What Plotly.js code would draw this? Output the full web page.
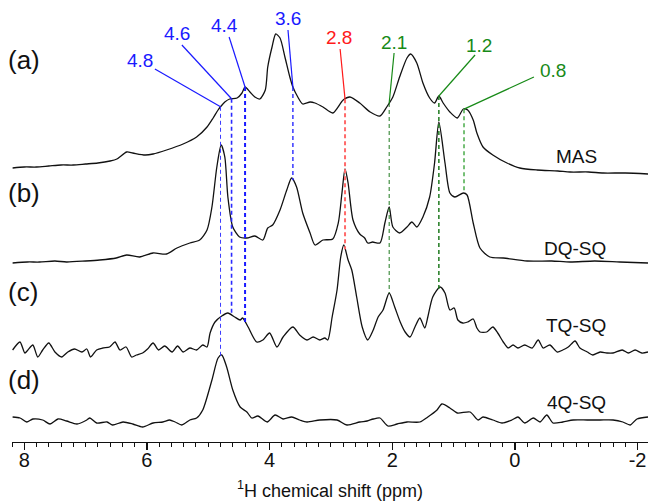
<!DOCTYPE html>
<html>
<head>
<meta charset="utf-8">
<script src="https://cdn.plot.ly/plotly-3.0.1.min.js"></script>
<style>html,body{margin:0;padding:0;background:#fff;}#chart{width:648px;height:501px;}</style>
</head>
<body>
<div id="chart"></div>
<script>
// ---- Spectrum (a) MAS ----
const ppmA = [8.19,8.0,7.8,7.6,7.4,7.2,7.0,6.8,6.6,6.49,6.33,6.23,6.03,5.90,5.68,5.41,5.19,5.02,4.92,4.84,4.79,4.73,4.65,4.53,4.45,4.40,4.32,4.24,4.16,4.07,4.03,3.96,3.90,3.83,3.75,3.67,3.62,3.54,3.46,3.34,3.26,3.13,2.97,2.80,2.69,2.53,2.36,2.20,2.09,1.99,1.88,1.76,1.70,1.60,1.50,1.39,1.31,1.24,1.17,1.06,0.94,0.84,0.77,0.68,0.62,0.52,0.36,0.13,-0.08,-0.36,-0.7,-0.90,-1.2,-1.44,-1.8,-2.17];
const intA = [7,8,8,9,10,10,11,12,14,16,23,22,20,21,25,31,38,48,57,65,69,73,76,77,82,88,83,78,76,85,108,128,141,137,118,98,88,78,71,73,72,68,62,75,78,72,63,59,68,78,98,117,121,112,92,77,72,79,72,63,57,66,65,55,42,28,20,12,7,5,4,3,3,2,2,1];
// ---- Spectrum (b) DQ-SQ ----
const ppmB = [8.19,7.95,7.75,7.5,7.31,7.0,6.77,6.5,6.33,6.12,5.90,5.68,5.51,5.30,5.14,5.02,4.94,4.86,4.79,4.73,4.68,4.60,4.49,4.37,4.24,4.11,4.03,3.95,3.83,3.72,3.64,3.56,3.46,3.34,3.26,3.13,2.97,2.88,2.82,2.77,2.72,2.64,2.53,2.45,2.40,2.32,2.20,2.12,2.05,1.99,1.88,1.76,1.68,1.60,1.50,1.39,1.31,1.24,1.14,1.06,0.98,0.84,0.78,0.68,0.57,0.41,0.19,-0.20,-0.6,-0.90,-1.3,-1.71,-2.17];
const intB = [0,1,1,2,1,2,3,5,8,6,10,9,15,20,23,33,56,96,118,106,66,36,26,25,27,23,35,38,53,73,85,76,50,30,18,23,24,40,70,94,80,43,29,25,20,21,20,40,56,36,30,36,41,36,46,66,100,141,100,70,66,70,68,40,15,6,5,2,2,1,2,1,0];
// ---- Spectrum (c) TQ-SQ ----
const ppmC = [8.19,8.07,7.99,7.94,7.86,7.78,7.70,7.60,7.50,7.39,7.29,7.18,7.06,6.98,6.92,6.82,6.72,6.61,6.52,6.44,6.34,6.25,6.17,6.07,5.99,5.90,5.81,5.71,5.59,5.50,5.41,5.30,5.19,5.09,5.02,4.97,4.89,4.78,4.68,4.57,4.48,4.44,4.35,4.21,4.11,4.00,3.88,3.78,3.62,3.51,3.39,3.29,3.18,3.10,3.05,2.98,2.90,2.84,2.79,2.72,2.66,2.58,2.49,2.40,2.31,2.23,2.15,2.05,1.96,1.87,1.79,1.71,1.63,1.55,1.47,1.42,1.34,1.22,1.14,1.06,0.99,0.93,0.85,0.77,0.68,0.62,0.57,0.46,0.36,0.28,0.19,0.11,0.03,-0.05,-0.16,-0.28,-0.38,-0.46,-0.57,-0.69,-0.78,-0.87,-0.98,-1.06,-1.18,-1.27,-1.39,-1.50,-1.60,-1.75,-1.85,-1.96,-2.07,-2.17];
const intC = [2,10,-1,2,7,-5,2,9,0,-5,0,3,0,3,-5,2,4,5,10,2,5,-5,-3,-1,3,9,2,6,0,6,0,4,2,7,5,19,30,36,39,35,32,34,25,10,12,19,5,15,25,17,12,15,12,14,12,35,62,95,107,92,82,55,25,12,22,35,42,59,45,30,20,15,25,34,24,35,55,65,59,42,44,32,29,30,33,24,20,20,25,19,10,4,7,4,7,4,12,4,7,0,2,5,11,4,0,-3,0,-1,-1,2,-1,2,-1,0];
// ---- Spectrum (d) 4Q-SQ ----
const ppmD = [8.19,8.07,7.96,7.86,7.70,7.58,7.45,7.31,7.14,6.98,6.93,6.82,6.65,6.56,6.39,6.23,6.07,5.90,5.74,5.63,5.54,5.43,5.30,5.19,5.09,4.94,4.84,4.78,4.70,4.60,4.48,4.37,4.29,4.19,4.04,3.91,3.78,3.64,3.51,3.39,3.18,2.90,2.74,2.53,2.41,2.31,2.20,2.07,1.92,1.76,1.55,1.42,1.27,1.19,1.06,0.94,0.73,0.60,0.52,0.36,0.21,0.05,-0.05,-0.16,-0.30,-0.41,-0.52,-0.62,-0.78,-0.95,-1.18,-1.39,-1.60,-1.76,-1.88,-1.99,-2.17];
const intD = [3,2,-2,1,0,-4,1,-1,-4,0,2,-3,-2,-5,-2,-4,-7,-3,-2,0,-2,-5,0,2,10,40,62,65,53,30,13,8,2,4,-2,5,1,3,0,-2,0,0,-5,-2,-1,1,2,-6,-4,-2,-2,3,10,16,12,7,8,0,3,0,-3,0,3,-3,2,-2,5,-3,-2,0,0,0,0,-2,-5,1,3];

const spectrumNames = ['MAS','DQ-SQ','TQ-SQ','4Q-SQ'];
const panelLetters = ['(a)','(b)','(c)','(d)'];
const tickValues = [8, 6, 4, 2, 0, -2];
const tickLabels = ['8', '6', '4', '2', '0', '-2'];

// Peak assignments
const peakLabels = ['4.8','4.6','4.4','3.6','2.8','2.1','1.2','0.8'];
const peakPos    = [4.8, 4.62, 4.4, 3.62, 2.77, 2.05, 1.24, 0.83];
const peakDrop   = [3, 2, 2, 1, 2, 2, 2, 1]; // index of spectrum where dashed line ends

// ---- layout constants ----
const FONT = 'Liberation Sans, Arial, sans-serif';
const offsets = [267, 179, 90, 22];
const spectra = [[ppmA,intA],[ppmB,intB],[ppmC,intC],[ppmD,intD]];
const peakColors = ['#1a1aff','#1a1aff','#1a1aff','#1a1aff','#ff1a1a','#178a17','#178a17','#178a17'];
const dashColors = ['#3a3aff','#2a2aff','#1a1aff','#2a2aff','#ff6a6a','#1f7a1f','#1f7a1f','#55b055'];
const dashWidths = [1, 1.6, 2, 1.4, 2, 1, 1.5, 1.6];
const labelXY  = [[6.12,382],[5.51,409],[4.73,417],[3.70,424],[2.87,405],[1.97,400],[0.59,397],[-0.62,372]];
const leaderXY = [[5.87,373],[5.43,397],[4.66,405],[3.70,412],[2.85,393],[1.97,389],[0.65,387],[-0.31,365]];
const nameXY   = [[-1.0,286],[-0.98,194],[-0.99,117],[-1.0,40]];
const letterY  = [382, 249, 150, 62];
const XRANGE = [8.2, -2.17];

function interp(xs, ys, x){
  for(let i=0;i<xs.length-1;i++){
    const a=xs[i], b=xs[i+1];
    if((x<=a && x>=b)||(x>=a && x<=b)){
      const t=(x-a)/(b-a); return ys[i]+t*(ys[i+1]-ys[i]);
    }
  }
  return ys[ys.length-1];
}

const traces = spectra.map((s,k)=>({
  type:'scatter', mode:'lines', x:s[0], y:s[1].map(v=>v+offsets[k]),
  line:{color:'#111', width:1.3, shape:'spline', smoothing:0.7},
  hoverinfo:'skip', showlegend:false
}));
// carrier for the tick-mark axis
traces.push({type:'scatter', mode:'lines', x:[XRANGE[0], XRANGE[1]], y:[-50,-50], xaxis:'x2', yaxis:'y',
  line:{color:'rgba(0,0,0,0)', width:0}, hoverinfo:'skip', showlegend:false});

const shapes = [];
const annotations = [];
peakPos.forEach((p,i)=>{
  const yTop = offsets[0] + interp(ppmA,intA,p);
  const k = peakDrop[i];
  const yBot = offsets[k] + interp(spectra[k][0],spectra[k][1],p);
  shapes.push({type:'line', xref:'x', yref:'y', x0:p, x1:p, y0:yTop, y1:yBot,
    line:{color:dashColors[i], width:dashWidths[i], dash:'4px,3px'}});
  shapes.push({type:'line', xref:'x', yref:'y', x0:leaderXY[i][0], y0:leaderXY[i][1], x1:p, y1:yTop,
    line:{color:peakColors[i], width:1.2}});
  annotations.push({x:labelXY[i][0], y:labelXY[i][1], xref:'x', yref:'y', text:peakLabels[i],
    showarrow:false, xanchor:'center', yanchor:'middle', font:{family:FONT, size:19, color:peakColors[i]}});
});
spectrumNames.forEach((n,i)=>{
  annotations.push({x:nameXY[i][0], y:nameXY[i][1], xref:'x', yref:'y', text:n, showarrow:false,
    xanchor:'center', yanchor:'middle', font:{family:FONT, size:19, color:'#111'}});
});
panelLetters.forEach((t,i)=>{
  annotations.push({x:-0.009, y:letterY[i], xref:'paper', yref:'y', text:t, showarrow:false,
    xanchor:'left', yanchor:'middle', font:{family:FONT, size:26, color:'#111'}});
});

const layout = {
  width:648, height:501,
  margin:{l:12, r:0, t:0, b:59, pad:0},
  paper_bgcolor:'#fff', plot_bgcolor:'#fff',
  showlegend:false,
  xaxis:{
    range:XRANGE, showgrid:false, zeroline:false,
    showline:true, linecolor:'#111', linewidth:1.2,
    ticks:'', tickmode:'array', tickvals:tickValues, ticktext:tickLabels,
    ticklabeloverflow:'allow',
    tickfont:{family:FONT, size:20, color:'#111'},
    title:{text:'<sup>1</sup>H chemical shift (ppm)', font:{family:FONT, size:18, color:'#111'}, standoff:14}
  },
  xaxis2:{
    range:XRANGE, overlaying:'x', anchor:'y', side:'bottom',
    showgrid:false, zeroline:false, showline:false, showticklabels:false,
    ticks:'outside', ticklen:7, tickwidth:1.2, tickcolor:'#111', tick0:0, dtick:2,
    minor:{dtick:0.2, ticks:'outside', ticklen:4, tickwidth:1, tickcolor:'#111', showgrid:false}
  },
  yaxis:{range:[0,442], visible:false, fixedrange:true},
  shapes:shapes,
  annotations:annotations
};

Plotly.newPlot('chart', traces, layout, {staticPlot:true, displayModeBar:false});
</script>
</body>
</html>
